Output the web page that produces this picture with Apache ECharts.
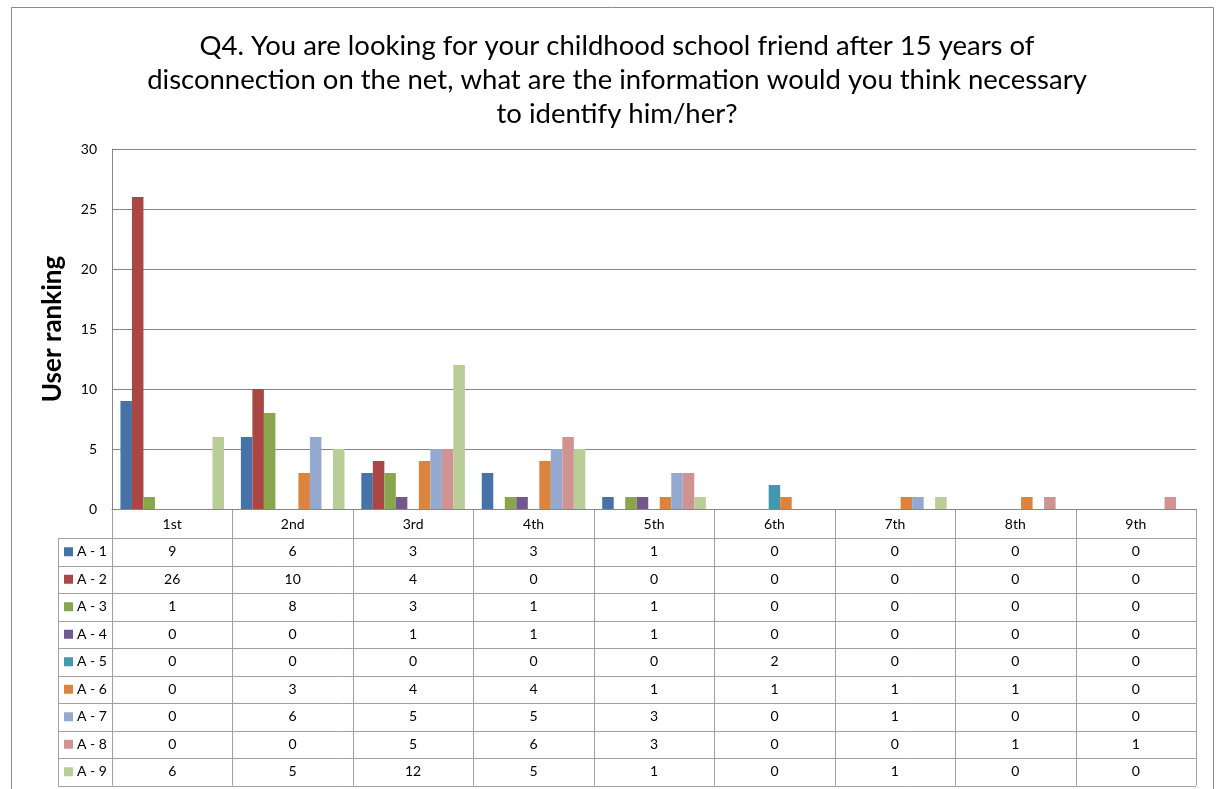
<!DOCTYPE html>
<html>
<head>
    <meta charset="utf-8">
    <title>Q4 user ranking</title>
    <script src="https://cdn.jsdelivr.net/npm/echarts@6/dist/echarts.min.js"></script>
    <style>
        html, body { margin: 0; padding: 0; background: #fff; }
    </style>
</head>
<body>
    <div id="main" style="width: 1216px;height:789px;"></div>
    <script type="text/javascript">
        // categories (rank positions)
        var ranks = ['1st', '2nd', '3rd', '4th', '5th', '6th', '7th', '8th', '9th'];
        // series names
        var names = ['A - 1', 'A - 2', 'A - 3', 'A - 4', 'A - 5', 'A - 6', 'A - 7', 'A - 8', 'A - 9'];
        // one row of counts per answer
        var a1 = [9, 6, 3, 3, 1, 0, 0, 0, 0];
        var a2 = [26, 10, 4, 0, 0, 0, 0, 0, 0];
        var a3 = [1, 8, 3, 1, 1, 0, 0, 0, 0];
        var a4 = [0, 0, 1, 1, 1, 0, 0, 0, 0];
        var a5 = [0, 0, 0, 0, 0, 2, 0, 0, 0];
        var a6 = [0, 3, 4, 4, 1, 1, 1, 1, 0];
        var a7 = [0, 6, 5, 5, 3, 0, 1, 0, 0];
        var a8 = [0, 0, 5, 6, 3, 0, 0, 1, 1];
        var a9 = [6, 5, 12, 5, 1, 0, 1, 0, 0];
        var yTicks = [0, 5, 10, 15, 20, 25, 30];

        var rows = [a1, a2, a3, a4, a5, a6, a7, a8, a9];
        var colors = ['#4572A7', '#AA4643', '#89A54E', '#71588F', '#4198AF',
                      '#DB843D', '#93A9CF', '#D19392', '#B9CD96'];

        var font = 'Lato, "Open Sans", sans-serif';
        var gLeft = 112, gTop = 149, gRight = 1196, gBottom = 509;
        var rowH = 27.5, headH = 29, legendX = 58;

        var myChart = echarts.init(document.getElementById('main'));

        var series = rows.map(function (r, i) {
            return {
                name: names[i],
                type: 'bar',
                barGap: '0%',
                barCategoryGap: '14%',
                itemStyle: { color: colors[i] },
                data: r
            };
        });

        var option = {
            animation: false,
            textStyle: { fontFamily: font },
            title: {
                text: 'Q4. You are looking for your childhood school friend after 15 years of\n' +
                      'disconnection on the net, what are the information would you think necessary\n' +
                      'to identify him/her?',
                left: 612,
                textAlign: 'center',
                top: 24,
                textStyle: { fontFamily: font, fontSize: 27.5, fontWeight: 'normal', color: '#000', lineHeight: 34 }
            },
            grid: { left: gLeft, top: gTop, width: gRight - gLeft, height: gBottom - gTop, containLabel: false },
            xAxis: {
                type: 'category',
                data: ranks,
                axisLine: { lineStyle: { color: '#868686' } },
                axisTick: { show: false },
                axisLabel: { color: '#000', fontSize: 14, margin: 8, fontFamily: font }
            },
            yAxis: {
                type: 'value',
                min: yTicks[0],
                max: yTicks[yTicks.length - 1],
                interval: 5,
                name: 'User ranking',
                nameLocation: 'middle',
                nameGap: 46,
                nameTextStyle: { fontSize: 26, fontWeight: 'bold', color: '#000', fontFamily: font },
                axisLine: { show: true, lineStyle: { color: '#868686' } },
                axisTick: { show: false },
                axisLabel: { color: '#000', fontSize: 14, margin: 15, fontFamily: font },
                splitLine: { lineStyle: { color: '#868686' } }
            },
            series: series
        };

        myChart.setOption(option);

        // data table under the plot, built from the same arrays
        var els = [];
        var colW = (gRight - gLeft) / ranks.length;
        var line = { stroke: '#a0a0a0', lineWidth: 1 };
        var tableBottom = gBottom + headH + rowH * names.length;
        // outer chart frame
        els.push({ type: 'rect', shape: { x: 11.5, y: 7.5, width: 1202, height: 800 },
                   style: { fill: null, stroke: '#8c8c8c', lineWidth: 1 }, z: 0 });
        for (var c = 0; c <= ranks.length; c++) {
            var x = Math.round(gLeft + c * colW) + 0.5;
            els.push({ type: 'line', shape: { x1: x, y1: gBottom, x2: x, y2: tableBottom }, style: line });
        }
        els.push({ type: 'line', shape: { x1: legendX + 0.5, y1: gBottom + headH, x2: legendX + 0.5, y2: tableBottom }, style: line });
        for (var k = 0; k <= names.length; k++) {
            var y = Math.round(gBottom + headH + k * rowH) + 0.5;
            els.push({ type: 'line', shape: { x1: legendX, y1: y, x2: gRight, y2: y }, style: line });
        }
        names.forEach(function (n, i) {
            var cy = gBottom + headH + (i + 0.5) * rowH;
            els.push({ type: 'rect', shape: { x: legendX + 6, y: cy - 4.5, width: 9, height: 9 },
                       style: { fill: colors[i] } });
            els.push({ type: 'text', x: legendX + 19, y: cy,
                       style: { text: n, font: '14px ' + font, fill: '#000', verticalAlign: 'middle', align: 'left' } });
            rows[i].forEach(function (v, j) {
                els.push({ type: 'text', x: gLeft + (j + 0.5) * colW, y: cy,
                           style: { text: String(v), font: '14px ' + font, fill: '#000', verticalAlign: 'middle', align: 'center' } });
            });
        });
        myChart.setOption({ graphic: { elements: els } });
    </script>
</body>
</html>
